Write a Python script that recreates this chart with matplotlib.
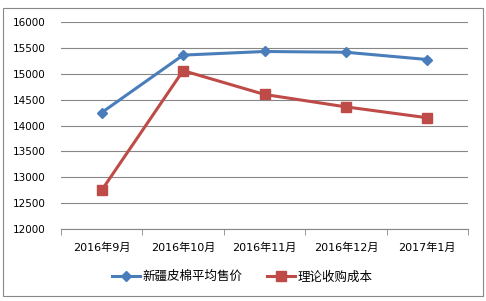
import numpy as np
import matplotlib.pyplot as plt
from matplotlib.patches import Rectangle

plt.rcParams['font.family'] = ['DejaVu Sans', 'Noto Sans CJK SC']

months = ['2016年9月', '2016年10月', '2016年11月', '2016年12月', '2017年1月']
price = [14250, 15360, 15430, 15415, 15275]     # 新疆皮棉平均售价
cost = [12750, 15060, 14600, 14360, 14150]      # 理论收购成本

fig = plt.figure(figsize=(4.86, 3.01), dpi=100)
fig.patches.append(Rectangle((0.006, 0.017), 0.988, 0.955, transform=fig.transFigure,
                             fill=False, edgecolor='#888888', linewidth=0.8))
ax = fig.add_axes([0.1255, 0.239, 0.8375, 0.688])

x = np.arange(len(months))
ax.plot(x, price, color='#4A7EBB', linewidth=2.2, marker='D', markersize=5, label='新疆皮棉平均售价')
ax.plot(x, cost, color='#BE4B48', linewidth=2.2, marker='s', markersize=6.5, label='理论收购成本')

ax.set_xlim(-0.5, len(months) - 0.5)
ax.set_ylim(12000, 16000)
ax.set_yticks(range(12000, 16001, 500))
ax.yaxis.grid(True, color='#878787', linewidth=0.8)
ax.set_axisbelow(True)
ax.tick_params(axis='y', length=0, labelsize=7.5, pad=11)

ax.set_xticks(x)
ax.set_xticklabels(months, fontsize=8)
ax.tick_params(axis='x', length=0, pad=10)
ax.set_xticks(np.arange(-0.5, len(months)), minor=True)
ax.tick_params(axis='x', which='minor', length=4, color='#878787')

for s in ['left', 'right', 'top']:
    ax.spines[s].set_visible(False)
ax.spines['bottom'].set_color('#878787')

ax.legend(loc='upper center', bbox_to_anchor=(0.445, -0.145), ncol=2, frameon=False,
          prop={'family': 'Noto Sans CJK SC', 'size': 9}, handlelength=2.2,
          columnspacing=2.0, handletextpad=0.2)

fig.savefig('out.png', dpi=100)
